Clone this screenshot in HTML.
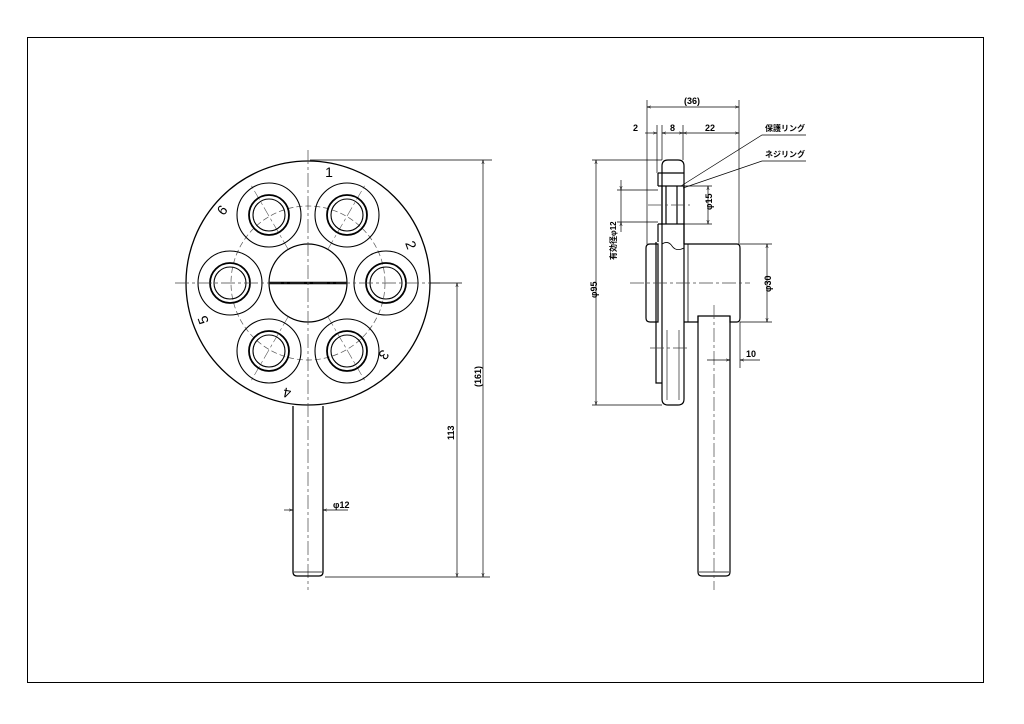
<!DOCTYPE html>
<html><head><meta charset="utf-8"><style>html,body{margin:0;padding:0;background:#fff}svg{display:block}</style></head>
<body>
<svg width="1024" height="724" viewBox="0 0 1024 724" xmlns="http://www.w3.org/2000/svg" font-family="Liberation Sans, Noto Sans CJK JP, sans-serif">
<rect x="0" y="0" width="1024" height="724" fill="#fff"/>
<rect x="27.5" y="37.5" width="956" height="645" fill="none" stroke="#000" stroke-width="1"/>
<defs>
<marker id="a" viewBox="0 0 10 10" refX="10" refY="5" markerWidth="6" markerHeight="6" orient="auto-start-reverse"><path d="M0,2 L10,5 L0,8" fill="none" stroke="#000" stroke-width="1"/></marker>
</defs>
<g fill="none" stroke="#000">
<circle cx="308" cy="283" r="122" stroke-width="1.3"/>
<circle cx="308" cy="283" r="77" stroke="#555" stroke-width="0.7" stroke-dasharray="6,3"/>
<circle cx="308" cy="283" r="39" stroke-width="1.2"/>
<line x1="269" y1="283" x2="347" y2="283" stroke-width="2.5"/>
<g stroke="#555" stroke-width="0.6" stroke-dasharray="10,3,3,3">
<line x1="328" y1="249" x2="365" y2="185"/>
<line x1="288" y1="249" x2="251" y2="185"/>
<line x1="328" y1="317" x2="365" y2="381"/>
<line x1="288" y1="317" x2="251" y2="381"/>
</g>
<g stroke-width="1.1">
<g transform="translate(347,215)"><circle r="32"/><circle r="20" stroke-width="1.8"/><circle r="16"/></g>
<g transform="translate(269,215)"><circle r="32"/><circle r="20" stroke-width="1.8"/><circle r="16"/></g>
<g transform="translate(230,283)"><circle r="32"/><circle r="20" stroke-width="1.8"/><circle r="16"/></g>
<g transform="translate(386,283)"><circle r="32"/><circle r="20" stroke-width="1.8"/><circle r="16"/></g>
<g transform="translate(269,351)"><circle r="32"/><circle r="20" stroke-width="1.8"/><circle r="16"/></g>
<g transform="translate(347,351)"><circle r="32"/><circle r="20" stroke-width="1.8"/><circle r="16"/></g>
</g>
<line x1="175" y1="283" x2="440" y2="283" stroke="#444" stroke-width="0.7" stroke-dasharray="14,3,3,3"/>
<line x1="308" y1="150" x2="308" y2="590" stroke="#444" stroke-width="0.7" stroke-dasharray="14,3,3,3"/>
<path d="M293,406 V572 Q293,576 297,576 H319 Q323,576 323,572 V406" stroke-width="1.3"/>
<line x1="294" y1="572" x2="322" y2="572" stroke-width="0.7"/>
<g stroke-width="0.7">
<line x1="310" y1="160" x2="492" y2="160"/>
<line x1="325" y1="577" x2="490" y2="577"/>
<line x1="430" y1="283" x2="462" y2="283"/>
<line x1="483" y1="160" x2="483" y2="577" marker-start="url(#a)" marker-end="url(#a)"/>
<line x1="457" y1="283" x2="457" y2="577" marker-start="url(#a)" marker-end="url(#a)"/>
<line x1="284" y1="510" x2="293" y2="510" marker-end="url(#a)"/>
<line x1="348" y1="510" x2="323" y2="510" marker-end="url(#a)"/>
</g>
</g>
<g font-size="14" fill="#000" text-anchor="middle" dominant-baseline="central">
<text transform="translate(329,172)">1</text>
<text transform="translate(411,245) rotate(70)">2</text>
<text transform="translate(384,355) rotate(130)">3</text>
<text transform="translate(287,393) rotate(190)">4</text>
<text transform="translate(203,320) rotate(250)">5</text>
<text transform="translate(222,210) rotate(310)">6</text>
</g>
<g font-size="9" font-weight="bold" fill="#000">
<text x="333" y="508">φ12</text>
<text transform="translate(481,387) rotate(-90)">(161)</text>
<text transform="translate(454,440) rotate(-90)">113</text>
</g>
<g fill="none" stroke="#000" stroke-width="1.2">
<path d="M662,166 Q662,160 668,160 H678 Q684,160 684,166 V399 Q684,405 678,405 H668 Q662,405 662,399 Z"/>
<line x1="662" y1="173" x2="684" y2="173"/>
<path d="M658,173 H662 M658,173 V186 M658,224 V242 M656,242 V383 H662"/>
<rect x="662" y="186" width="22" height="38"/>
<line x1="666" y1="186" x2="666" y2="224"/>
<line x1="677" y1="186" x2="677" y2="224"/>
<path d="M658,186 H662 M658,224 H662"/>
<path d="M650,244 H658 V322 H650 Q646,322 646,318 V248 Q646,244 650,244 Z"/>
<path d="M684,244 H737 Q740,244 740,248 V318 Q740,322 737,322 H730 V316 H698 V322 H684"/>
<line x1="688" y1="244" x2="688" y2="322" stroke-width="0.8"/>
<line x1="684" y1="224" x2="684" y2="244"/>
<path d="M662,244 Q668,240 672,246 T684,248" stroke-width="0.8"/>
<path d="M698,316 V572 Q698,576 702,576 H726 Q730,576 730,572 V316"/>
<line x1="699" y1="572" x2="729" y2="572" stroke-width="0.7"/>
<line x1="667" y1="330" x2="667" y2="400" stroke-width="0.6"/>
<line x1="679" y1="330" x2="679" y2="400" stroke-width="0.6"/>
</g>
<g fill="none" stroke="#444" stroke-width="0.7" stroke-dasharray="14,3,3,3">
<line x1="630" y1="283" x2="750" y2="283"/>
<line x1="714" y1="305" x2="714" y2="590"/>
<line x1="648" y1="205" x2="690" y2="205"/>
<line x1="650" y1="348" x2="690" y2="348"/>
</g>
<g fill="none" stroke="#000" stroke-width="0.7">
<line x1="647" y1="100" x2="647" y2="244"/>
<line x1="739" y1="100" x2="739" y2="244"/>
<line x1="657" y1="125" x2="657" y2="173"/>
<line x1="662" y1="125" x2="662" y2="160"/>
<line x1="683" y1="125" x2="683" y2="160"/>
<line x1="647" y1="107" x2="739" y2="107" marker-start="url(#a)" marker-end="url(#a)"/>
<line x1="645" y1="133" x2="657" y2="133" marker-end="url(#a)"/>
<line x1="662" y1="133" x2="683" y2="133" marker-start="url(#a)" marker-end="url(#a)"/>
<line x1="683" y1="133" x2="739" y2="133" marker-start="url(#a)" marker-end="url(#a)"/>
<line x1="592" y1="160" x2="662" y2="160"/>
<line x1="592" y1="405" x2="662" y2="405"/>
<line x1="596" y1="160" x2="596" y2="405" marker-start="url(#a)" marker-end="url(#a)"/>
<line x1="617" y1="190" x2="658" y2="190"/>
<line x1="617" y1="222" x2="658" y2="222"/>
<line x1="621" y1="180" x2="621" y2="190" marker-end="url(#a)"/>
<line x1="621" y1="232" x2="621" y2="222" marker-end="url(#a)"/>
<line x1="621" y1="190" x2="621" y2="222"/>
<line x1="684" y1="186" x2="712" y2="186"/>
<line x1="684" y1="224" x2="712" y2="224"/>
<line x1="708" y1="186" x2="708" y2="224" marker-start="url(#a)" marker-end="url(#a)"/>
<line x1="740" y1="244" x2="772" y2="244"/>
<line x1="740" y1="322" x2="772" y2="322"/>
<line x1="767" y1="244" x2="767" y2="322" marker-start="url(#a)" marker-end="url(#a)"/>
<line x1="740" y1="322" x2="740" y2="368"/>
<line x1="707" y1="360" x2="730" y2="360" marker-end="url(#a)"/>
<line x1="760" y1="360" x2="740" y2="360" marker-end="url(#a)"/>
<polyline points="681,186 762,135 806,135"/>
<polyline points="683,188 762,161 806,161"/>
</g>
<g font-size="9" font-weight="bold" fill="#000">
<text x="684" y="104">(36)</text>
<text x="633" y="131">2</text>
<text x="670" y="131">8</text>
<text x="705" y="131">22</text>
<text x="765" y="131" font-size="8">保護リング</text>
<text x="765" y="157" font-size="8">ネジリング</text>
<text transform="translate(712,210) rotate(-90)">φ15</text>
<text transform="translate(771,292) rotate(-90)">φ30</text>
<text transform="translate(597,298) rotate(-90)">φ95</text>
<text transform="translate(616,260) rotate(-90)" font-size="8">有効径φ12</text>
<text x="746" y="357">10</text>
</g>
</svg>
</body></html>
